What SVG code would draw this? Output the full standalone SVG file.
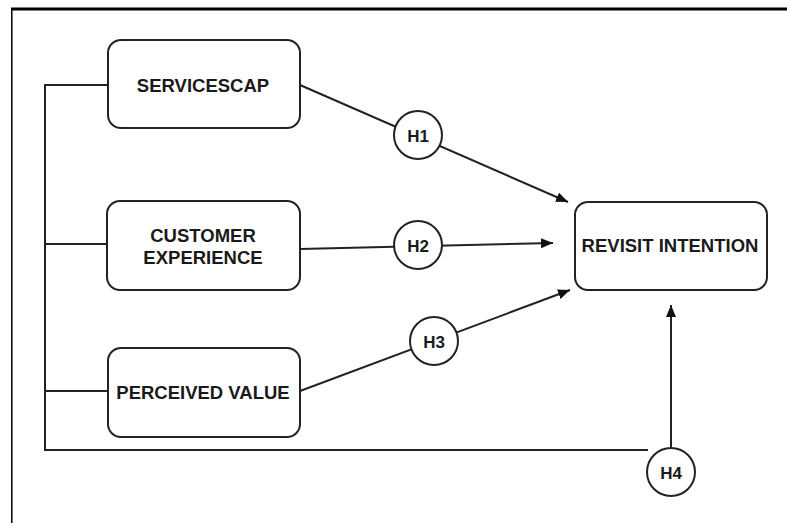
<svg xmlns="http://www.w3.org/2000/svg" width="787" height="523" viewBox="0 0 787 523">
  <defs>
    <marker id="arrow" viewBox="0 0 12 10" refX="12" refY="5" markerWidth="12" markerHeight="10" markerUnits="userSpaceOnUse" orient="auto">
      <path d="M0,0 L12,5 L0,10 Z" fill="#111"/>
    </marker>
    <style>
      .box { fill: #fff; stroke: #222; stroke-width: 2; }
      .hyp { fill: #fff; stroke: #222; stroke-width: 2; }
      .lbl { font-family: "Liberation Sans", Arial, sans-serif; font-weight: bold; font-size: 18.5px; fill: #1a1a1a; text-anchor: middle; dominant-baseline: central; }
      .hl { font-family: "Liberation Sans", Arial, sans-serif; font-weight: bold; font-size: 17px; fill: #1a1a1a; text-anchor: middle; dominant-baseline: central; }
      .wire { fill: none; stroke: #222; stroke-width: 2; }
    </style>
  </defs>

  <rect width="787" height="523" fill="#fff"/>
  <!-- page frame -->
  <line x1="11" y1="9" x2="787" y2="9" stroke="#000" stroke-width="3"/>
  <line x1="11.8" y1="9" x2="11.8" y2="523" stroke="#000" stroke-width="1.5"/>

  <g id="connectors">
    <!-- shared left bus feeding all predictors and H4 -->
    <path class="wire" d="M108,85 H45 V450 H648"/>
    <line class="wire" x1="45" y1="244" x2="108" y2="244"/>
    <line class="wire" x1="45" y1="391" x2="108" y2="391"/>
    <!-- H1 -->
    <line class="wire" x1="300" y1="85" x2="568" y2="202" marker-end="url(#arrow)"/>
    <!-- H2 -->
    <line class="wire" x1="300" y1="249" x2="553" y2="243" marker-end="url(#arrow)"/>
    <!-- H3 -->
    <line class="wire" x1="300" y1="391" x2="570" y2="290" marker-end="url(#arrow)"/>
    <!-- H4 -->
    <line class="wire" x1="671" y1="448" x2="671" y2="305" marker-end="url(#arrow)"/>
  </g>

  <g id="servicescap">
    <rect class="box" x="108" y="40" width="192" height="88" rx="13"/>
    <text class="lbl" x="203" y="85">SERVICESCAP</text>
  </g>
  <g id="customer-experience">
    <rect class="box" x="107" y="201" width="193" height="89" rx="13"/>
    <text class="lbl" x="203" y="235">CUSTOMER</text>
    <text class="lbl" x="203" y="257">EXPERIENCE</text>
  </g>
  <g id="perceived-value">
    <rect class="box" x="108" y="348" width="192" height="89" rx="13"/>
    <text class="lbl" x="203" y="392">PERCEIVED VALUE</text>
  </g>
  <g id="revisit-intention">
    <rect class="box" x="575" y="202" width="192" height="88" rx="13"/>
    <text class="lbl" x="670" y="245">REVISIT INTENTION</text>
  </g>

  <g id="h1">
    <circle class="hyp" cx="418" cy="135" r="24"/>
    <text class="hl" x="418" y="136">H1</text>
  </g>
  <g id="h2">
    <circle class="hyp" cx="418" cy="245" r="24"/>
    <text class="hl" x="418" y="246">H2</text>
  </g>
  <g id="h3">
    <circle class="hyp" cx="434" cy="341" r="24"/>
    <text class="hl" x="434" y="342">H3</text>
  </g>
  <g id="h4">
    <circle class="hyp" cx="671" cy="472" r="24"/>
    <text class="hl" x="671" y="473">H4</text>
  </g>
</svg>
